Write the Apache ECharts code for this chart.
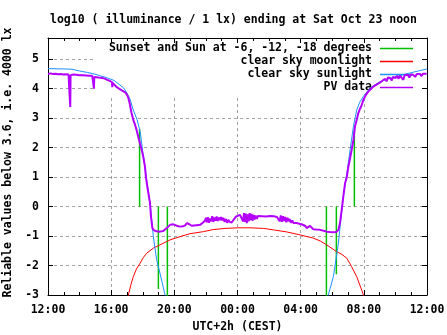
<!DOCTYPE html>
<html><head><meta charset="utf-8">
<script src="https://cdn.jsdelivr.net/npm/echarts@6/dist/echarts.min.js"></script>
<style>html,body{margin:0;padding:0;background:#fff}#c{width:447px;height:335px}</style>
</head><body><div id="c"></div>
<script>
const titleText = 'log10 ( illuminance / 1 lx) ending at Sat Oct 23 noon';
const yName = 'Reliable values below 3.6, i.e. 4000 lx';
const xName = 'UTC+2h (CEST)';
const seriesNames = ['Sunset and Sun at -6, -12, -18 degrees', 'clear sky moonlight', 'clear sky sunlight', 'PV data'];
const tickHours = [12, 16, 20, 24, 28, 32, 36];
const tickLabels = ['12:00', '16:00', '20:00', '00:00', '04:00', '08:00', '12:00'];

// green: vertical markers at sunset/sunrise and twilight times [hour], from 0 to end value
const twilightHours = [17.80, 18.99, 19.56, 29.63, 30.26, 31.40];
const twilightEnds = [2.63, -2.8, -3.3, -3.3, -2.3, 2.63];

// red: clear sky moonlight [hour, log10 lx]
const moonlight = [[17.0,-3.3],[17.09,-3.0],[17.25,-2.65],[17.40,-2.38],[17.6,-2.12],[17.83,-1.92],[18.05,-1.72],[18.25,-1.58],[18.67,-1.41],[19.09,-1.30],[19.73,-1.13],[20.36,-1.02],[20.99,-0.92],[21.84,-0.85],[22.47,-0.78],[23.21,-0.74],[24.0,-0.72],[24.8,-0.72],[25.64,-0.74],[26.27,-0.79],[27.12,-0.86],[27.96,-0.96],[28.80,-1.07],[29.25,-1.17],[29.65,-1.30],[30.28,-1.53],[30.6,-1.62],[30.92,-1.75],[31.23,-2.04],[31.55,-2.38],[31.87,-2.84],[31.97,-3.0],[32.05,-3.3]];

// blue: clear sky sunlight
const sunlight = [[12.0,4.68],[13.0,4.67],[13.52,4.66],[14.0,4.60],[14.5,4.55],[14.91,4.50],[15.25,4.45],[15.55,4.40],[15.9,4.34],[16.18,4.28],[16.5,4.15],[16.8,4.02],[17.0,3.85],[17.19,3.65],[17.40,3.28],[17.64,2.95],[17.85,2.50],[18.04,1.70],[18.21,1.05],[18.33,0.6],[18.46,0.12],[18.57,-0.45],[18.67,-1.02],[18.88,-1.81],[19.09,-2.26],[19.25,-2.62],[19.41,-3.0],[19.5,-3.3],[24,'-'],
  [29.65,-3.3],[29.75,-3.0],[30.07,-2.38],[30.28,-1.64],[30.39,-1.24],[30.54,-0.45],[30.70,0.34],[30.92,1.1],[31.13,1.93],[31.34,2.72],[31.55,3.28],[31.75,3.55],[31.97,3.74],[32.39,4.02],[33.03,4.24],[33.5,4.33],[34.08,4.41],[34.6,4.49],[35.13,4.56],[35.6,4.62],[36,4.67]];

// purple: measured PV data
const pvData = [[12.00,4.50],[12.08,4.47],[12.16,4.52],[12.24,4.46],[12.32,4.50],[12.40,4.45],[12.48,4.51],[12.56,4.47],[12.64,4.49],[12.72,4.44],[12.80,4.50],[12.88,4.46],[12.96,4.48],[13.04,4.43],[13.12,4.49],[13.20,4.46],[13.30,4.48],[13.39,4.45],[13.41,3.38],[13.43,4.46],[13.52,4.44],[13.60,4.48],[13.70,4.43],[13.80,4.47],[13.90,4.44],[14.00,4.46],[14.10,4.42],[14.20,4.46],[14.30,4.43],[14.40,4.45],[14.50,4.41],[14.60,4.44],[14.70,4.42],[14.80,4.44],[14.89,4.41],[14.91,4.00],[14.93,4.40],[15.05,4.40],[15.20,4.38],[15.35,4.37],[15.55,4.35],[15.75,4.30],[15.90,4.27],[16.00,4.25],[16.05,4.22],[16.07,4.05],[16.10,4.20],[16.20,4.14],[16.30,4.08],[16.39,4.05],[16.50,4.00],[16.60,3.96],[16.75,3.92],[16.90,3.87],[17.00,3.80],[17.08,3.70],[17.17,3.51],[17.28,3.20],[17.40,2.94],[17.50,2.80],[17.61,2.60],[17.71,2.38],[17.82,2.15],[17.93,1.93],[18.03,1.70],[18.14,1.36],[18.20,1.00],[18.32,0.57],[18.46,0.12],[18.52,-0.34],[18.61,-0.73],[18.70,-0.80],[18.85,-0.84],[19.09,-0.85],[19.30,-0.83],[19.52,-0.73],[19.73,-0.62],[19.90,-0.60],[20.04,-0.62],[20.20,-0.66],[20.36,-0.68],[20.55,-0.67],[20.68,-0.64],[20.80,-0.56],[20.95,-0.60],[21.10,-0.65],[21.20,-0.66],[21.40,-0.63],[21.63,-0.62],[21.80,-0.55],
  [21.94,-0.48],[22.00,-0.38],[22.06,-0.53],[22.12,-0.36],[22.19,-0.55],[22.26,-0.40],[22.33,-0.50],[22.40,-0.33],[22.47,-0.52],[22.54,-0.37],[22.61,-0.48],[22.68,-0.34],[22.75,-0.49],[22.82,-0.37],[22.89,-0.46],[22.96,-0.36],[23.03,-0.47],[23.10,-0.38],[23.18,-0.52],[23.26,-0.42],[23.34,-0.55],[23.42,-0.45],[23.50,-0.52],[23.63,-0.54],[23.75,-0.48],[23.90,-0.34],[24.00,-0.32],[24.16,-0.28],[24.28,-0.30],
  [24.35,-0.50],[24.41,-0.22],[24.47,-0.52],[24.53,-0.24],[24.59,-0.56],[24.65,-0.26],[24.71,-0.50],[24.77,-0.22],[24.83,-0.46],[24.89,-0.25],[24.95,-0.48],[25.01,-0.28],[25.08,-0.44],[25.15,-0.30],[25.22,-0.42],[25.30,-0.32],[25.40,-0.38],[25.55,-0.33],[25.80,-0.34],[26.06,-0.32],[26.30,-0.33],[26.50,-0.35],
  [26.60,-0.30],[26.67,-0.50],[26.74,-0.30],[26.81,-0.52],[26.88,-0.33],[26.95,-0.49],[27.02,-0.35],[27.09,-0.53],[27.16,-0.38],[27.23,-0.50],[27.30,-0.42],[27.38,-0.55],[27.46,-0.47],[27.55,-0.56],[27.64,-0.52],[27.75,-0.56],[27.90,-0.58],[28.05,-0.60],[28.17,-0.62],[28.30,-0.66],[28.38,-0.73],[28.46,-0.70],[28.59,-0.655],[28.70,-0.72],[28.80,-0.77],[29.00,-0.78],[29.23,-0.79],[29.45,-0.82],[29.65,-0.85],[29.85,-0.86],[30.07,-0.87],[30.25,-0.86],[30.39,-0.79],[30.49,-0.56],[30.60,-0.11],[30.70,0.34],[30.81,0.79],[30.92,1.00],[31.02,1.36],[31.13,1.65],[31.23,1.93],[31.34,2.26],[31.44,2.72],[31.55,2.95],[31.65,3.17],[31.76,3.32],[31.87,3.45],[31.97,3.62],[32.12,3.78],[32.28,3.90],[32.44,3.99],[32.60,4.07],[32.80,4.14],[33.03,4.21],[33.20,4.28],[33.35,4.33],[33.45,4.25],[33.52,4.38],[33.66,4.36],[33.77,4.28],[33.85,4.40],[34.00,4.36],[34.10,4.44],[34.20,4.34],[34.29,4.44],[34.40,4.38],[34.50,4.30],[34.58,4.46],[34.68,4.40],[34.78,4.47],[34.88,4.38],[34.98,4.48],[35.08,4.42],[35.13,4.47],[35.25,4.40],[35.35,4.50],[35.45,4.44],[35.55,4.50],[35.65,4.43],[35.75,4.51],[35.85,4.46],[35.98,4.51],[36.0,4.50]];

const twilightData = [];
twilightHours.forEach((h, i) => { twilightData.push([h, 0], [h, twilightEnds[i]], [h, '-']); });

const font = "'DejaVu Sans Mono', 'Liberation Mono', monospace";
const base = {fontFamily: font, fontSize: 11.5, fontWeight: 'bold', color: '#000'};
const black = {color: '#000', width: 1};
const xFmt = v => { const i = tickHours.indexOf(v); return i >= 0 ? tickLabels[i] : ''; };
const yFmt = v => Number.isInteger(v) ? String(v) : '';

const chart = echarts.init(document.getElementById('c'), null, {renderer: 'canvas'});
chart.setOption({
  animation: false,
  backgroundColor: '#fff',
  title: {text: titleText, left: 50, top: 14, padding: 0, textStyle: base},
  grid: {left: 48, right: 20, top: 38, bottom: 40, containLabel: false, outerBoundsMode: 'none'},
  legend: {
    orient: 'vertical', align: 'right', right: 21, top: 39, z: 1,
    backgroundColor: '#fff', padding: [3, 13, 1, 14], itemGap: 0,
    itemWidth: 33, itemHeight: 1.5, icon: 'rect', selectedMode: false,
    itemStyle: {borderWidth: 0},
    textStyle: Object.assign({}, base, {lineHeight: 13, padding: [0, 3, 0, 0]}),
    data: seriesNames
  },
  xAxis: [
    {type: 'value', min: 12, max: 36, interval: 4, position: 'bottom',
     axisLine: {onZero: false, lineStyle: black},
     axisTick: {inside: true, length: 5, lineStyle: black},
     minorTick: {show: true, splitNumber: 4, length: 3, lineStyle: black},
     axisLabel: Object.assign({}, base, {margin: 9, formatter: xFmt}),
     splitLine: {show: true, lineStyle: {color: '#a0a0a0', type: [3, 3], width: 1}},
     name: xName, nameLocation: 'middle', nameGap: 26, nameTextStyle: base},
    {type: 'value', min: 12, max: 36, interval: 4, position: 'top', z: 3,
     axisLine: {onZero: false, lineStyle: black},
     axisTick: {inside: true, length: 5, lineStyle: black},
     minorTick: {show: true, splitNumber: 4, length: 3, lineStyle: black},
     axisLabel: {show: false}, splitLine: {show: false}}
  ],
  yAxis: [
    {type: 'value', min: -3, max: 5.72, interval: 1, position: 'left',
     axisLine: {show: true, onZero: false, lineStyle: black},
     axisTick: {show: true, inside: true, length: 5, lineStyle: black},
     axisLabel: Object.assign({}, base, {margin: 9, formatter: yFmt}),
     splitLine: {show: true, lineStyle: {color: '#a0a0a0', type: [3, 3], width: 1}},
     name: yName, nameLocation: 'middle', nameGap: 28,
     nameTextStyle: Object.assign({}, base, {padding: [0, 0, 0, 8]})},
    {type: 'value', min: -3, max: 5.72, interval: 1, position: 'right', z: 3,
     axisLine: {show: true, onZero: false, lineStyle: black},
     axisTick: {show: true, inside: true, length: 5, lineStyle: black},
     axisLabel: {show: false}, splitLine: {show: false}}
  ],
  series: [
    {name: seriesNames[0], type: 'line', data: twilightData, symbol: 'none', color: '#00c000', lineStyle: {width: 1.5, color: '#00c000'}},
    {name: seriesNames[1], type: 'line', data: moonlight, symbol: 'none', color: '#ff0000', lineStyle: {width: 1, color: '#ff0000'}},
    {name: seriesNames[2], type: 'line', data: sunlight, symbol: 'none', color: '#1e90ff', lineStyle: {width: 1, color: '#1e90ff'}},
    {name: seriesNames[3], type: 'line', data: pvData, symbol: 'none', color: '#b400ff', lineStyle: {width: 2, color: '#b400ff'}}
  ]
});
</script></body></html>
